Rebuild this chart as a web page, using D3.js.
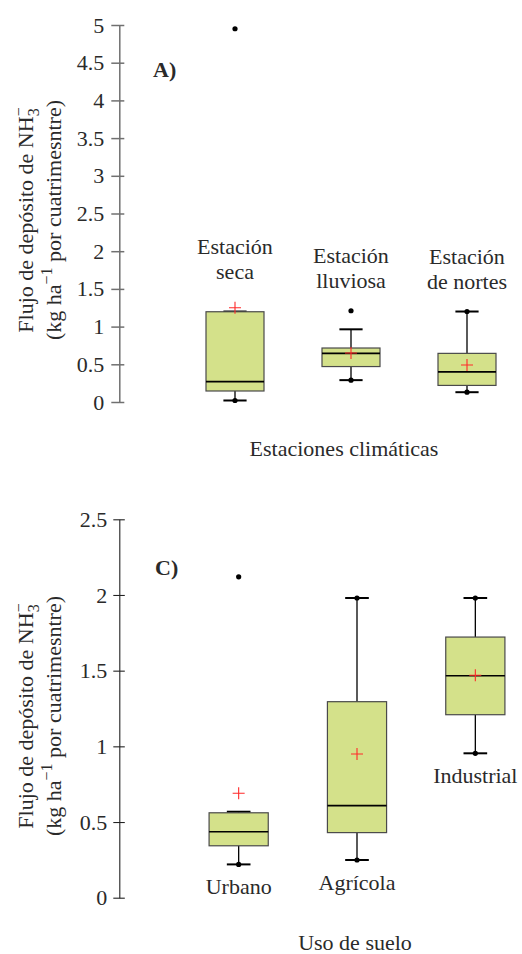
<!DOCTYPE html>
<html>
<head>
<meta charset="utf-8">
<script src="https://cdn.jsdelivr.net/npm/d3@7"></script>
<style>
  body { margin: 0; background: #fff; }
  svg { display: block; }
</style>
</head>
<body>
<svg id="chart" width="522" height="954"></svg>
<script>
// ---------- Data ----------
// Panel A: climatic seasons
const catsA = ["Estación seca", "Estación lluviosa", "Estación de nortes"];
const labelLinesA = [["Estación", "seca"], ["Estación", "lluviosa"], ["Estación", "de nortes"]];
const minA = [0.02, 0.29, 0.13];
const q1A = [0.146, 0.47, 0.22];
const medA = [0.27, 0.645, 0.40];
const q3A = [1.197, 0.716, 0.645];
const hiA = [1.20, 0.964, 1.20];
const meanA = [1.25, 0.65, 0.49];
const outA = [[4.95], [1.21], []];
const ticksA = [0, 0.5, 1, 1.5, 2, 2.5, 3, 3.5, 4, 4.5, 5];

// Panel C: land use
const catsC = ["Urbano", "Agrícola", "Industrial"];
const minC = [0.22, 0.249, 0.954];
const q1C = [0.343, 0.43, 1.209];
const medC = [0.436, 0.608, 1.466];
const q3C = [0.561, 1.295, 1.722];
const hiC = [0.568, 1.98, 1.98];
const meanC = [0.69, 0.949, 1.47];
const outC = [[2.12], [], []];
const ticksC = [0, 0.5, 1, 1.5, 2, 2.5];

// ---------- Drawing ----------
const FONT = '"Liberation Serif", "Times New Roman", serif';
const FS = 22;
const TXT = "#2a2a2a";
const BOX_FILL = "#d4e18a";
const svg = d3.select("#chart").style("font-family", FONT);

function txt(sel) {
  return sel.style("font-family", FONT).style("font-size", FS + "px").attr("fill", TXT);
}

function build(cats, mins, q1s, meds, q3s, his, means, outs) {
  return cats.map((c, i) => ({
    cat: c, min: mins[i], q1: q1s[i], med: meds[i], q3: q3s[i],
    hi: his[i], mean: means[i], out: outs[i]
  }));
}

function drawPanel(opts) {
  const { data, x, y, ticks, axisX, axisColor, axisWidth, tickLeft, tickRight, labelGap } = opts;
  const g = svg.append("g");

  const axis = d3.axisLeft(y).tickValues(ticks).tickSize(tickLeft).tickSizeOuter(0)
    .tickPadding(labelGap).tickFormat(d => String(d));
  const ax = g.append("g").attr("transform", `translate(${axisX},0)`).call(axis);
  ax.attr("font-family", null).attr("font-size", null);
  ax.select(".domain").attr("stroke", axisColor).attr("stroke-width", axisWidth);
  ax.selectAll(".tick line").attr("x1", tickRight)
    .attr("stroke", axisColor).attr("stroke-width", axisWidth);
  txt(ax.selectAll(".tick text"));

  const bw = x.bandwidth() * 0.5;
  const capW = x.bandwidth() * 0.2;

  const box = g.selectAll(".box").data(data).join("g")
    .attr("transform", d => `translate(${x(d.cat) + x.bandwidth() / 2},0)`);

  // whiskers
  box.append("line").attr("x1", 0).attr("x2", 0)
    .attr("y1", d => y(d.q3)).attr("y2", d => y(d.hi))
    .attr("stroke", "#000").attr("stroke-width", 1.3);
  box.append("line").attr("x1", 0).attr("x2", 0)
    .attr("y1", d => y(d.q1)).attr("y2", d => y(d.min))
    .attr("stroke", "#000").attr("stroke-width", 1.3);
  // caps
  box.append("line").attr("x1", -capW / 2).attr("x2", capW / 2)
    .attr("y1", d => y(d.hi)).attr("y2", d => y(d.hi))
    .attr("stroke", "#000").attr("stroke-width", 2);
  box.append("line").attr("x1", -capW / 2).attr("x2", capW / 2)
    .attr("y1", d => y(d.min)).attr("y2", d => y(d.min))
    .attr("stroke", "#000").attr("stroke-width", 2);

  // box
  box.append("rect")
    .attr("x", -bw / 2).attr("width", bw)
    .attr("y", d => y(d.q3)).attr("height", d => y(d.q1) - y(d.q3))
    .attr("fill", BOX_FILL).attr("stroke", "#4a4a4a").attr("stroke-width", 1.2);
  // median
  box.append("line").attr("x1", -bw / 2).attr("x2", bw / 2)
    .attr("y1", d => y(d.med)).attr("y2", d => y(d.med))
    .attr("stroke", "#000").attr("stroke-width", 1.6);

  // min / max dots
  box.append("circle").attr("cx", 0).attr("cy", d => y(d.min)).attr("r", 2.6).attr("fill", "#000");
  box.filter(d => d.out.length === 0).append("circle")
    .attr("cx", 0).attr("cy", d => y(d.hi)).attr("r", 2.6).attr("fill", "#000");
  box.selectAll(".out").data(d => d.out).join("circle").attr("class", "out")
    .attr("cx", 0).attr("cy", v => y(v)).attr("r", 2.6).attr("fill", "#000");

  // mean marker
  const m = 6;
  box.append("path")
    .attr("d", d => `M${-m},${y(d.mean)}H${m}M0,${y(d.mean) - m}V${y(d.mean) + m}`)
    .attr("stroke", "#ff2a2a").attr("stroke-width", 1.1).attr("fill", "none");

  return { g, box };
}

function yTitle(cx, cy) {
  const t = svg.append("g").attr("transform", `translate(${cx},${cy}) rotate(-90)`);
  const l1 = txt(t.append("text")).attr("x", 0).attr("y", 0).attr("text-anchor", "middle");
  l1.append("tspan").text("Flujo de depósito de NH");
  l1.append("tspan").attr("dy", -9).style("font-size", "16px").text("−");
  l1.append("tspan").attr("dx", -9).attr("dy", 15).style("font-size", "16px").text("3");
  const l2 = txt(t.append("text")).attr("x", 0).attr("y", 28).attr("text-anchor", "middle");
  l2.append("tspan").text("(kg ha");
  l2.append("tspan").attr("dy", -9).style("font-size", "16px").text("−1");
  l2.append("tspan").attr("dy", 9).text(" por cuatrimesntre)");
}

// ----- Panel A -----
const dataA = build(catsA, minA, q1A, medA, q3A, hiA, meanA, outA);
const yA = d3.scaleLinear().domain([0, 5]).range([402, 25]);
const xA = d3.scaleBand().domain(catsA).range([177, 525]);
drawPanel({ data: dataA, x: xA, y: yA, ticks: ticksA, axisX: 119.3, axisColor: "#707070",
  axisWidth: 1.5, tickLeft: 8, tickRight: 5, labelGap: 7 });

dataA.forEach((d, i) => {
  const near = [d.hi, d.q3, ...d.out.filter(v => v < 2)];
  const topY = Math.min(d3.min(near, v => yA(v)), yA(d.mean) - 6);
  const base = topY - 23;
  const cx = xA(d.cat) + xA.bandwidth() / 2;
  const lines = labelLinesA[i];
  lines.forEach((ln, k) => {
    txt(svg.append("text")).attr("x", cx).attr("y", base - (lines.length - 1 - k) * 24.5)
      .attr("text-anchor", "middle").text(ln);
  });
});
txt(svg.append("text")).attr("x", 153).attr("y", 77).attr("font-weight", "bold").text("A)");
txt(svg.append("text")).attr("x", 344).attr("y", 456).attr("text-anchor", "middle")
  .text("Estaciones climáticas");
yTitle(33, 220);

// ----- Panel C -----
const dataC = build(catsC, minC, q1C, medC, q3C, hiC, meanC, outC);
const yC = d3.scaleLinear().domain([0, 2.5]).range([897.7, 519.3]);
const xC = d3.scaleBand().domain(catsC).range([179.5, 534.5]);
drawPanel({ data: dataC, x: xC, y: yC, ticks: ticksC, axisX: 119.3, axisColor: "#222",
  axisWidth: 1.1, tickLeft: 6, tickRight: 5.5, labelGap: 6 });

dataC.forEach(d => {
  txt(svg.append("text")).attr("x", xC(d.cat) + xC.bandwidth() / 2).attr("y", yC(d.min) + 30)
    .attr("text-anchor", "middle").text(d.cat);
});
txt(svg.append("text")).attr("x", 155).attr("y", 575).attr("font-weight", "bold").text("C)");
txt(svg.append("text")).attr("x", 355).attr("y", 950).attr("text-anchor", "middle")
  .text("Uso de suelo");
yTitle(33, 716);
</script>
</body>
</html>
